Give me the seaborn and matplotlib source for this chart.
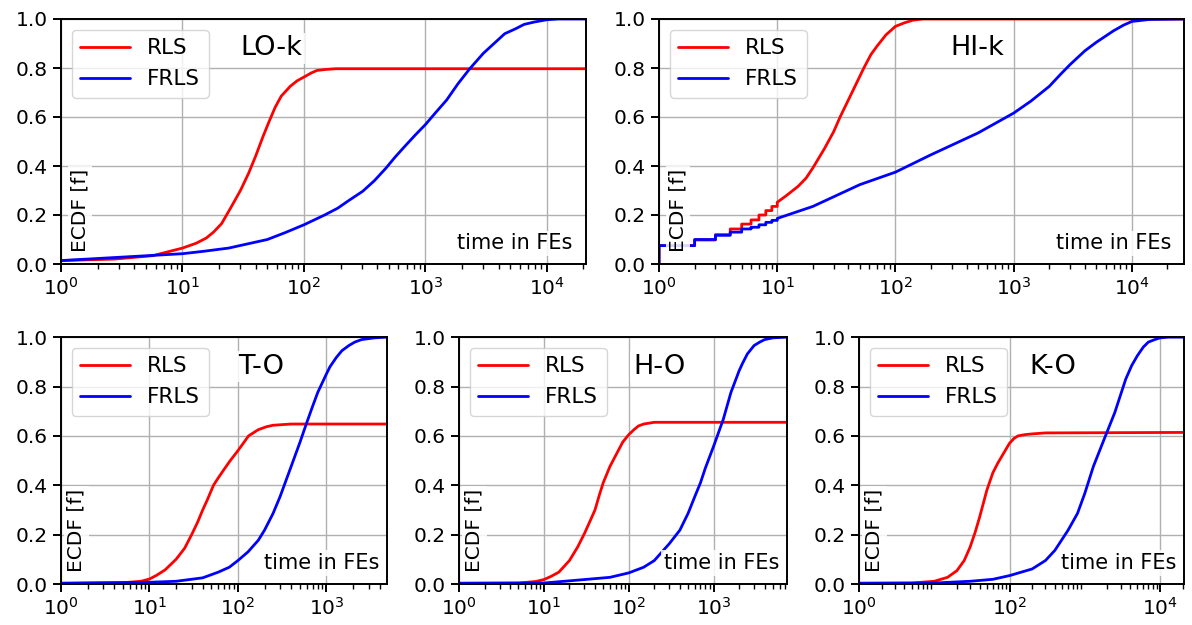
import numpy as np
import pandas as pd
import matplotlib
matplotlib.use("Agg")
import matplotlib.pyplot as plt
import seaborn as sns
from matplotlib.ticker import FixedLocator, LogLocator

# ---- data (time in FEs, ECDF value) ----
lok_rls_x = [1, 2.75, 5.7, 10, 13, 15.7, 18, 21, 25, 30, 35, 40, 46, 52, 58, 65, 77,
             88, 100, 115, 128, 150, 184, 250, 2.1e4]
lok_rls_y = [0.014, 0.02, 0.034, 0.065, 0.085, 0.106, 0.13, 0.165, 0.23, 0.30, 0.37,
             0.44, 0.52, 0.585, 0.64, 0.685, 0.725, 0.748, 0.763, 0.78, 0.79, 0.794,
             0.797, 0.797, 0.797]
lok_frls_x = [1, 10, 15, 24, 35, 50, 70, 100, 148, 190, 229, 305, 380, 471, 560, 676,
              820, 1000, 1200, 1500, 1850, 2318, 3000, 3846, 4500, 5520, 6500, 7940,
              1e4, 1.25e4, 2.1e4]
lok_frls_y = [0.014, 0.042, 0.052, 0.065, 0.083, 0.10, 0.128, 0.16, 0.20, 0.228, 0.256,
              0.297, 0.34, 0.39, 0.435, 0.48, 0.525, 0.569, 0.615, 0.67, 0.735, 0.797,
              0.86, 0.909, 0.94, 0.96, 0.978, 0.988, 0.997, 1.0, 1.0]

hik_rls_x = [1, 1, 2, 2, 3, 3, 4, 4, 5, 5, 6, 6, 7, 7, 8, 8, 9, 9, 10, 10,
             12, 15, 17.5, 20, 25, 30, 34, 40, 47, 54, 62, 70, 83, 100, 120, 140, 170,
             2.76e4]
hik_rls_y = [0, 0.075, 0.075, 0.098, 0.098, 0.12, 0.12, 0.143, 0.143, 0.163, 0.163, 0.18,
             0.18, 0.20, 0.20, 0.218, 0.218, 0.235, 0.235, 0.252,
             0.28, 0.317, 0.35, 0.392, 0.47, 0.54, 0.60, 0.67, 0.74, 0.80, 0.855, 0.89,
             0.935, 0.97, 0.985, 0.995, 1.0, 1.0]
hik_frls_x = [1, 1, 2, 2, 3, 3, 4, 4, 5, 5, 6, 6, 7, 7, 8, 8, 9, 9, 10, 10,
              20, 50, 100, 200, 500, 1000, 1400, 2000, 2500, 3000, 4000, 5000, 7000,
              8500, 1e4, 1.4e4, 2.76e4]
hik_frls_y = [0, 0.075, 0.075, 0.10, 0.10, 0.117, 0.117, 0.13, 0.13, 0.143, 0.143, 0.15,
              0.15, 0.16, 0.16, 0.17, 0.17, 0.178, 0.178, 0.186,
              0.235, 0.324, 0.375, 0.446, 0.535, 0.616, 0.665, 0.725, 0.775, 0.814,
              0.87, 0.905, 0.952, 0.975, 0.99, 0.998, 1.0]

to_rls_x = [1, 5, 8, 10, 12, 15, 20, 25, 30, 35, 40, 45, 53, 60, 70, 82, 100, 115, 132,
            170, 210, 250, 400, 4860]
to_rls_y = [0.003, 0.005, 0.011, 0.02, 0.035, 0.057, 0.10, 0.145, 0.20, 0.25, 0.30,
            0.34, 0.40, 0.43, 0.465, 0.50, 0.54, 0.57, 0.60, 0.625, 0.637, 0.643, 0.648,
            0.648]
to_frls_x = [1, 10, 20, 40, 60, 80, 100, 130, 170, 200, 250, 300, 400, 500, 600, 700,
             800, 1000, 1100, 1300, 1500, 1800, 2100, 2500, 3500, 4860]
to_frls_y = [0.003, 0.007, 0.011, 0.025, 0.048, 0.068, 0.095, 0.13, 0.177, 0.218, 0.286,
             0.354, 0.476, 0.571, 0.653, 0.72, 0.776, 0.85, 0.88, 0.918, 0.945, 0.966,
             0.98, 0.99, 0.997, 1.0]

ho_rls_x = [1, 5, 8, 10, 12, 15, 20, 25, 30, 35, 40, 45, 50, 60, 70, 85, 100, 115, 130,
            150, 200, 7340]
ho_rls_y = [0.003, 0.004, 0.01, 0.018, 0.03, 0.048, 0.095, 0.15, 0.204, 0.255, 0.30,
            0.36, 0.41, 0.476, 0.52, 0.575, 0.605, 0.625, 0.64, 0.648, 0.655, 0.655]
ho_frls_x = [1, 10, 30, 60, 100, 150, 200, 300, 400, 500, 600, 700, 800, 1000, 1300,
             1600, 2000, 2200, 2500, 3000, 3500, 4000, 5000, 7340]
ho_frls_y = [0.003, 0.004, 0.018, 0.027, 0.045, 0.068, 0.095, 0.163, 0.218, 0.286, 0.354,
             0.41, 0.47, 0.558, 0.667, 0.776, 0.864, 0.895, 0.932, 0.966, 0.98, 0.99,
             0.997, 1.0]

ko_rls_x = [1, 5, 10, 15, 20, 25, 30, 35, 40, 50, 60, 70, 80, 100, 115, 130, 160, 200,
            300, 2.08e4]
ko_rls_y = [0.003, 0.004, 0.011, 0.027, 0.054, 0.095, 0.15, 0.21, 0.27, 0.38, 0.45, 0.49,
            0.52, 0.57, 0.59, 0.60, 0.605, 0.608, 0.612, 0.614]
ko_frls_x = [1, 10, 30, 60, 100, 200, 300, 400, 600, 800, 1000, 1300, 1800, 2500, 3500,
             4200, 5000, 6000, 7000, 8500, 1e4, 1.3e4, 2.08e4]
ko_frls_y = [0.003, 0.004, 0.011, 0.019, 0.034, 0.061, 0.095, 0.136, 0.218, 0.286, 0.367,
             0.476, 0.585, 0.694, 0.83, 0.885, 0.925, 0.96, 0.98, 0.99, 0.997, 1.0, 1.0]

panels = [
    ("LO-k", lok_rls_x, lok_rls_y, lok_frls_x, lok_frls_y, 2.1e4),
    ("HI-k", hik_rls_x, hik_rls_y, hik_frls_x, hik_frls_y, 2.76e4),
    ("T-O", to_rls_x, to_rls_y, to_frls_x, to_frls_y, 4860),
    ("H-O", ho_rls_x, ho_rls_y, ho_frls_x, ho_frls_y, 7340),
    ("K-O", ko_rls_x, ko_rls_y, ko_frls_x, ko_frls_y, 2.08e4),
]

sns.set_style("ticks", {"axes.edgecolor": "black", "xtick.color": "black",
                        "ytick.color": "black", "text.color": "black"})
plt.rcParams["font.family"] = ["DejaVu Sans"]
plt.rcParams["axes.linewidth"] = 1.4

fig = plt.figure(figsize=(11.92, 6.25), dpi=100)
rects = [
    [0.0512, 0.5776, 0.4404, 0.392],
    [0.5529, 0.5776, 0.4404, 0.392],
    [0.0512, 0.0656, 0.2735, 0.395],
    [0.3851, 0.0656, 0.2752, 0.395],
    [0.7206, 0.0656, 0.2727, 0.395],
]
title_x = [0.40, 0.607, 0.613, 0.61, 0.597]

for i, (name, rx, ry, fx, fy, xmax) in enumerate(panels):
    ax = fig.add_axes(rects[i])
    sns.lineplot(x=rx, y=ry, color="red", lw=2, label="RLS", ax=ax,
                 estimator=None, sort=False)
    sns.lineplot(x=fx, y=fy, color="blue", lw=2, label="FRLS", ax=ax,
                 estimator=None, sort=False)
    ax.set_xscale("log")
    ax.set_xlim(1, xmax)
    ax.set_ylim(0, 1)
    ax.set_yticks(np.arange(0, 1.01, 0.2))
    ax.set_yticklabels([f"{v:.1f}" for v in np.arange(0, 1.01, 0.2)])
    if name == "K-O":
        ax.xaxis.set_major_locator(FixedLocator([1, 100, 1e4]))
    ax.xaxis.set_minor_locator(LogLocator(base=10, subs=np.arange(2, 10)))
    ax.grid(True, which="major", color="#b0b0b0", lw=1.0)
    ax.tick_params(which="major", length=6, width=1.4, labelsize=14.5)
    ax.tick_params(which="minor", length=3.5, width=1.0)
    ax.set_xlabel("")
    ax.set_ylabel("")
    leg = ax.legend(loc="upper left", fontsize=15.5, handlelength=2.3)
    for line in leg.get_lines():
        line.set_linewidth(2)
    box = dict(facecolor="white", edgecolor="none", alpha=0.85, pad=2)
    ax.text(title_x[i], 0.88, name, transform=ax.transAxes, fontsize=19.5,
            ha="center", va="center", bbox=box)
    ax.text(0.975, 0.06, "time in FEs", transform=ax.transAxes, fontsize=15,
            ha="right", va="baseline", bbox=box)
    ax.text(0.018, 0.05, "ECDF [f]", transform=ax.transAxes, fontsize=14.5,
            rotation=90, ha="left", va="bottom", bbox=box)

fig.savefig("out.png", dpi=100)
